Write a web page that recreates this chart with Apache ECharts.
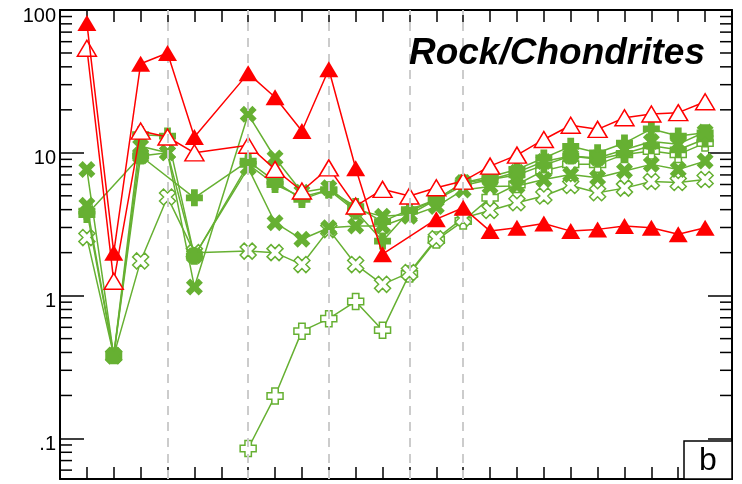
<!DOCTYPE html>
<html><head><meta charset="utf-8">
<script src="https://cdn.jsdelivr.net/npm/echarts@6/dist/echarts.min.js"></script>
<style>html,body{margin:0;padding:0;background:#fff}#c{width:742px;height:484px}</style>
</head><body><div id="c"></div>
<script>
// x positions (element slots 1..24, no labels shown)
const positions = [1,2,3,4,5,6,7,8,9,10,11,12,13,14,15,16,17,18,19,20,21,22,23,24];
const dashedPositions = [4, 7, 10, 13, 15];
const yTickValues = [0.1, 1, 10, 100];
const yTickLabels = ['.1', '1', '10', '100'];
const yMinorTicks = [0.06,0.07,0.08,0.09,0.2,0.3,0.4,0.5,0.6,0.7,0.8,0.9,2,3,4,5,6,7,8,9,20,30,40,50,60,70,80,90];

const redFilled = [81, 2.0, 42, 50, 12.9, null, 36, 24.5, 14.2, 38.5, 7.8, 1.95, null, 3.43, 4.12, 2.83, 2.99, 3.2, 2.83, 2.91, 3.07, 2.99, 2.69, 2.99];
const redOpen   = [54, 1.26, 14.2, 12.9, 10, null, 11.3, 7.65, 5.4, 7.85, 4.24, 5.55, 4.98, 5.69, 6.34, 8.07, 9.64, 12.4, 15.6, 14.6, 17.6, 18.7, 19.1, 22.8];
const greenX1   = [7.65, 0.38, 11.1, 10, 1.15, null, 18.6, 9.2, 5.3, 5.7, 4.0, 3.6, 3.7, 4.7, 6.2, 6.5, 7.3, 8.7, 9.5, 9.2, 10.5, 12, 11.5, 14];
const greenX2   = [4.3, 0.38, 9.5, 10, 1.9, null, 7.85, 3.24, 2.48, 2.99, 3.07, 3.07, 3.6, 4.2, 5.5, 5.8, 5.85, 6.5, 7.06, 6.68, 7.45, 8.3, 7.65, 8.75];
const greenP1   = [3.7, null, 9.5, null, 4.84, null, 8.75, 6.3, 4.72, 5.5, 4.2, 3.3, 4.0, 4.72, 6.17, 6.8, 7.65, 9.2, 11.1, 10, 11.7, 14.7, 13.1, 13.8];
const greenP2   = [3.9, 0.38, 13.4, 13.1, 1.89, null, 8.3, 6.0, 4.9, 5.5, 3.9, 2.41, 3.9, 4.7, 5.9, 6.5, 7.0, 8.2, 9.5, 9.0, 9.9, 11.2, 10.5, 12.5];
const greenOX   = [2.55, 0.38, 1.75, 4.9, 2.0, null, 2.05, 2.0, 1.65, 2.9, 1.65, 1.2, 1.45, 2.5, 3.5, 3.95, 4.47, 4.98, 5.9, 5.25, 5.66, 6.3, 6.2, 6.5];
const greenOP   = [null, null, null, null, null, null, 0.085, 0.198, 0.564, 0.69, 0.91, 0.573, 1.42, 2.45, 3.33, 4.84, 6.0, 7.5, 8.3, 8.3, 9.75, 10.3, 9.75, 11.7];

const RED = '#ff0000', GREEN = '#66b032';
const PLUS = 'path://M3,0L7,0L7,3L10,3L10,7L7,7L7,10L3,10L3,7L0,7L0,3L3,3Z';
const CROSS = 'path://M0,2.5L2.5,0L5,2.5L7.5,0L10,2.5L7.5,5L10,7.5L7.5,10L5,7.5L2.5,10L0,7.5L2.5,5Z';

function pts(arr) {
  const out = [];
  arr.forEach((v, i) => { if (v !== null) out.push([positions[i], v]); });
  return out;
}
function mk(arr, color, symbol, size, open, z) {
  return {
    type: 'line', data: pts(arr), symbol: symbol, symbolSize: size, z: z,
    lineStyle: { color: color, width: 1.5 },
    itemStyle: open ? { color: '#fff', borderColor: color, borderWidth: 1.5 } : { color: color, borderWidth: 0 },
    emphasis: { disabled: true }, silent: true
  };
}

const chart = echarts.init(document.getElementById('c'), null, { renderer: 'canvas' });
const fmt = v => {
  const i = yTickValues.findIndex(t => Math.abs(Math.log10(v) - Math.log10(t)) < 1e-6);
  return i >= 0 ? yTickLabels[i] : '';
};
const axisLine = { show: true, onZero: false, lineStyle: { color: '#000', width: 2 } };
chart.setOption({
  animation: false,
  backgroundColor: '#fff',
  grid: { left: 60, right: 10, top: 10, bottom: 5 },
  xAxis: [
    { type: 'value', position: 'bottom', min: 0, max: 25, interval: 1, axisLine: axisLine,
      axisTick: { show: true, inside: true, length: 12, lineStyle: { color: '#000', width: 1.5 } },
      axisLabel: { show: false }, splitLine: { show: false } },
    { type: 'value', position: 'top', min: 0, max: 25, interval: 1, axisLine: axisLine,
      axisTick: { show: true, inside: true, length: 12, lineStyle: { color: '#000', width: 1.5 } },
      axisLabel: { show: false }, splitLine: { show: false } }
  ],
  yAxis: [
    { type: 'log', logBase: 10, min: 0.052, max: 100, position: 'left', axisLine: axisLine,
      axisTick: { show: true, inside: true, length: 24, lineStyle: { color: '#000', width: 1.5 } },
      axisLabel: { formatter: fmt, fontSize: 20, color: '#000', fontFamily: 'Liberation Sans', margin: 4,
        verticalAlign: 'top', lineHeight: 12 },
      splitLine: { show: false } },
    { type: 'log', logBase: 10, min: 0.052, max: 100, position: 'right', axisLine: axisLine,
      axisTick: { show: true, inside: true, length: 24, lineStyle: { color: '#000', width: 1.5 } },
      axisLabel: { show: false }, splitLine: { show: false } }
  ],
  series: [
    { type: 'line', data: [], silent: true, z: 1,
      markLine: { symbol: ['none', 'none'], silent: true, label: { show: false },
        lineStyle: { type: [9, 7], color: '#cccccc', width: 2 },
        data: dashedPositions.map(x => ({ xAxis: x })) } },
    { type: 'custom', silent: true, z: 1, data: yMinorTicks.map(v => [1, v]),
      renderItem: function (params, api) {
        const y = api.coord([1, api.value(1)])[1];
        const cs = params.coordSys;
        return { type: 'group', children: [
          { type: 'line', shape: { x1: cs.x, y1: y, x2: cs.x + 12, y2: y }, style: { stroke: '#000', lineWidth: 1.5 } },
          { type: 'line', shape: { x1: cs.x + cs.width - 12, y1: y, x2: cs.x + cs.width, y2: y }, style: { stroke: '#000', lineWidth: 1.5 } }
        ] };
      } },
    mk(greenOP, GREEN, PLUS, 16, true, 2),
    mk(greenOX, GREEN, CROSS, 16, true, 2),
    mk(greenX2, GREEN, CROSS, 17, false, 3),
    mk(greenP2, GREEN, PLUS, 17, false, 3),
    mk(greenP1, GREEN, PLUS, 17, false, 3),
    mk(greenX1, GREEN, CROSS, 17, false, 3),
    mk(redOpen, RED, 'triangle', [19, 16], true, 4),
    mk(redFilled, RED, 'triangle', [19, 16], false, 5)
  ],
  graphic: [
    { type: 'text', x: 705, y: 54, z: 10,
      style: { text: 'Rock/Chondrites', font: 'italic bold 37px "Liberation Sans"', align: 'right', verticalAlign: 'middle', fill: '#000' } },
    { type: 'rect', shape: { x: 684, y: 441, width: 48, height: 38 }, z: 10,
      style: { fill: '#fff', stroke: '#000', lineWidth: 1.5 } },
    { type: 'text', x: 708, y: 461, z: 11,
      style: { text: 'b', font: '32px "Liberation Sans"', align: 'center', verticalAlign: 'middle', fill: '#000' } }
  ]
});
</script>
</body></html>
